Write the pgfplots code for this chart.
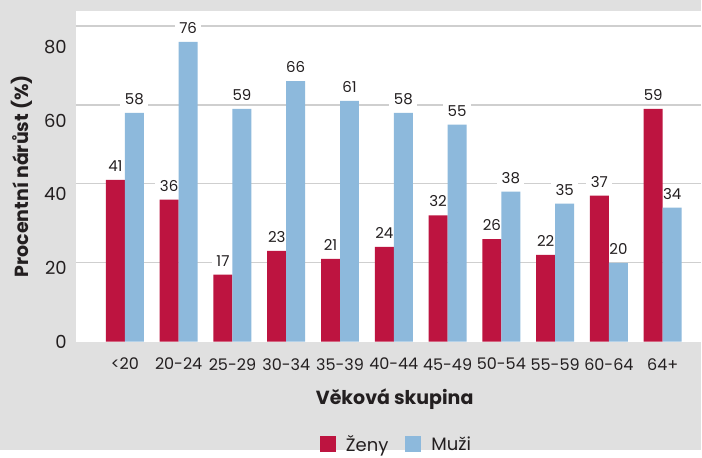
\documentclass[border=0pt]{standalone}
\usepackage{pgfplots}
\pgfplotsset{compat=1.18}
\usepackage{pgfplotstable}
\usepackage{fontspec}
\setmainfont{Poppins}
\pgfkeys{/pgf/number format/assume math mode=true}
\definecolor{bg}{HTML}{E0E0E0}
\definecolor{zen}{HTML}{BD1440}
\definecolor{muz}{HTML}{8DB9DC}
\definecolor{gridc}{HTML}{CFCFCF}
\definecolor{txt}{HTML}{231F20}
\pgfdeclarelayer{bgl}
\pgfplotsset{
 layers/mylayers/.define layer set={bgl,axis background,axis grid,axis ticks,axis lines,axis tick labels,pre main,main,axis descriptions,axis foreground}{},
}
\pgfplotstableread{
x zeny muzi
0 41 58
1 36 76
2 17 59
3 23 66
4 21 61
5 24 58
6 32 55
7 26 38
8 22 35
9 37 20
10 59 34
}\data
\begin{document}
\begin{tikzpicture}[x=1pt,y=1pt]
\begin{axis}[at={(0,0)},anchor=south west, scale only axis, width=626pt, height=331pt,
 set layers=mylayers,
 /pgf/number format/assume math mode=true,
 ybar, bar width=19pt,
 xmin=-0.91, xmax=10.72, ymin=0, ymax=83.8,
 axis background/.style={fill=white},
 axis line style={draw=none},
 major tick length=0pt,
 xtick=data,
 xticklabels={<20,20-24,25-29,30-34,35-39,40-44,45-49,50-54,55-59,60-64,64+},
 xticklabel style={font=\fontsize{16pt}{18pt}\selectfont, text=txt, yshift=-13pt},
 ytick={20,40,60,80}, extra y ticks={0}, extra y tick style={grid=none},
 ymajorgrids, grid style={gridc, line width=1.2pt},
 yticklabel style={font=\fontsize{18pt}{20pt}\selectfont, text=txt, inner sep=0pt, anchor=east, xshift=-9pt, yshift={-0.26*\tick}},
 xlabel={Věková skupina},
 ylabel={Procentní nárůst (\%)},
 every axis x label/.style={at={(axis description cs:0.5096,-0.175)}, anchor=center, font=\fontsize{19pt}{21pt}\selectfont\bfseries, text=txt},
 every axis y label/.style={at={(axis description cs:-0.0863,0.5)}, anchor=center, rotate=90, font=\fontsize{19pt}{21pt}\selectfont\bfseries, text=txt},
 legend style={at={(axis description cs:0.5125,-0.31)}, anchor=center, draw=none, fill=none, legend columns=2, font=\fontsize{18pt}{20pt}\selectfont, text=txt,
   /tikz/every odd column/.append style={column sep=8pt},
   /tikz/every even column/.append style={column sep=15pt}},
 legend image code/.code={\fill[#1] (0pt,-8pt) rectangle (16pt,8pt);},
 every node near coord/.append style={font=\fontsize{15pt}{17pt}\selectfont, fill=white, text=txt, inner xsep=4.5pt, inner ysep=2.5pt, anchor=center, yshift=14pt},
]
% value labels (main layer, beneath the bars)
\addplot[forget plot, fill=none, draw=none, bar shift=-9.5pt, nodes near coords] table[x=x, y=zeny] {\data};
\addplot[forget plot, fill=none, draw=none, bar shift=9.5pt, nodes near coords] table[x=x, y=muzi] {\data};
% bars on the foreground layer
\addplot[fill=zen, draw=none, bar shift=-9.5pt, on layer=axis foreground] table[x=x, y=zeny] {\data};
\addplot[fill=muz, draw=none, bar shift=9.5pt, on layer=axis foreground] table[x=x, y=muzi] {\data};
\legend{Ženy, Muži}
\end{axis}
\begin{pgfonlayer}{bgl}
\fill[bg] (-76,-108) rectangle (626,342);
\end{pgfonlayer}
\useasboundingbox (-76,-108) rectangle (626,342);
\end{tikzpicture}
\end{document}
